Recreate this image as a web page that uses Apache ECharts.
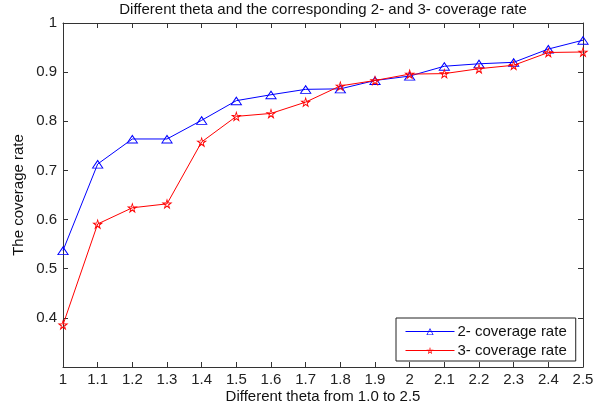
<!DOCTYPE html>
<html>
<head>
<meta charset="utf-8">
<script src="https://cdn.jsdelivr.net/npm/echarts@6/dist/echarts.min.js"></script>
<style>
html,body{margin:0;padding:0;background:#fff;}
#c{width:600px;height:407px;}
</style>
</head>
<body>
<div id="c"></div>
<script>
const theta = [1.0, 1.1, 1.2, 1.3, 1.4, 1.5, 1.6, 1.7, 1.8, 1.9, 2.0, 2.1, 2.2, 2.3, 2.4, 2.5];
const rate2 = [0.537, 0.713, 0.764, 0.764, 0.802, 0.842, 0.854, 0.865, 0.866, 0.883, 0.892, 0.912, 0.917, 0.920, 0.947, 0.965];
const rate3 = [0.386, 0.591, 0.624, 0.632, 0.758, 0.810, 0.816, 0.839, 0.872, 0.883, 0.896, 0.897, 0.907, 0.914, 0.940, 0.941];
const xTickLabels = ['1', '1.1', '1.2', '1.3', '1.4', '1.5', '1.6', '1.7', '1.8', '1.9', '2', '2.1', '2.2', '2.3', '2.4', '2.5'];
const yTickLabels = ['0.3', '0.4', '0.5', '0.6', '0.7', '0.8', '0.9', '1'];
const seriesNames = ['2- coverage rate', '3- coverage rate'];
const titleText = 'Different theta and the corresponding 2- and 3- coverage rate';
const xName = 'Different theta from 1.0 to 2.5';
const yName = 'The coverage rate';

const FONT = 'Liberation Sans, Arial, sans-serif';
// outline (ring) marker shapes: outer contour plus reversed inner contour -> hollow when filled
const triPath = 'path://M50,0 L100,100 L0,100 Z M50,22 L14,90 L86,90 Z';
const starPath = 'path://M50,0 L61,35 L98,35 L68,57 L79,91 L50,70 L21,91 L32,57 L2,35 L39,35 Z ' +
  'M50,23 L44.5,40.5 L26,40.5 L41,51.5 L35.5,68.5 L50,58 L64.5,68.5 L59,51.5 L74,40.5 L55.5,40.5 Z';
const BLUE = '#0000ff', RED = '#ff0000';

const chart = echarts.init(document.getElementById('c'), null, {renderer: 'canvas'});
const axisLineStyle = {color: '#333', width: 1};
const tickCommon = {show: true, inside: true, length: 5, lineStyle: {color: '#333', width: 1}};

const option = {
  backgroundColor: '#fff',
  animation: false,
  grid: {left: 63, right: 17, top: 23, bottom: 40, containLabel: false},
  legend: {
    left: 396, top: 318,
    orient: 'vertical',
    backgroundColor: '#fff',
    borderColor: '#222', borderWidth: 1, borderRadius: 0,
    padding: [6, 9, 3, 9],
    itemWidth: 49, itemHeight: 9, itemGap: 4,
    lineStyle: {width: 1},
    textStyle: {fontFamily: FONT, fontSize: 15, color: '#111', lineHeight: 15, padding: [0, 0, 0, -2]},
    data: seriesNames
  },
  xAxis: [{
    type: 'value', min: 1, max: 2.5, interval: 0.1, position: 'bottom',
    axisLine: {show: true, onZero: false, lineStyle: axisLineStyle},
    axisTick: tickCommon,
    splitLine: {show: false},
    axisLabel: {
      fontFamily: FONT, fontSize: 15, color: '#222', margin: 5,
      formatter: v => xTickLabels[Math.round((v - 1) / 0.1)]
    }
  }, {
    type: 'value', min: 1, max: 2.5, interval: 0.1, position: 'top',
    axisLine: {show: true, onZero: false, lineStyle: axisLineStyle},
    axisTick: tickCommon, axisLabel: {show: false}, splitLine: {show: false}
  }],
  yAxis: [{
    type: 'value', min: 0.3, max: 1, interval: 0.1, position: 'left',
    axisLine: {show: true, onZero: false, lineStyle: axisLineStyle},
    axisTick: tickCommon,
    splitLine: {show: false},
    axisLabel: {
      fontFamily: FONT, fontSize: 15, color: '#222', margin: 6, showMinLabel: false,
      formatter: v => yTickLabels[Math.round((v - 0.3) / 0.1)]
    }
  }, {
    type: 'value', min: 0.3, max: 1, interval: 0.1, position: 'right',
    axisLine: {show: true, onZero: false, lineStyle: axisLineStyle},
    axisTick: tickCommon, axisLabel: {show: false}, splitLine: {show: false}
  }],
  graphic: [
    {type: 'text', x: 323, y: 10, style: {text: titleText, font: '15px ' + FONT, fill: '#111', textAlign: 'center', textVerticalAlign: 'middle', align: 'center', verticalAlign: 'middle'}},
    {type: 'text', x: 323, y: 397, style: {text: xName, font: '15px ' + FONT, fill: '#111', textAlign: 'center', textVerticalAlign: 'middle', align: 'center', verticalAlign: 'middle'}},
    {type: 'text', x: 19, y: 195, rotation: Math.PI / 2, style: {text: yName, font: '15px ' + FONT, fill: '#111', textAlign: 'center', textVerticalAlign: 'middle', align: 'center', verticalAlign: 'middle'}}
  ],
  series: [{
    name: seriesNames[0], type: 'line',
    data: theta.map((t, i) => [t, rate2[i]]),
    symbol: triPath, symbolSize: [12, 9],
    lineStyle: {color: BLUE, width: 1},
    itemStyle: {color: BLUE, borderWidth: 0},
    emphasis: {disabled: true},
    z: 3
  }, {
    name: seriesNames[1], type: 'line',
    data: theta.map((t, i) => [t, rate3[i]]),
    symbol: starPath, symbolSize: 11,
    lineStyle: {color: RED, width: 1},
    itemStyle: {color: RED, borderWidth: 0},
    emphasis: {disabled: true},
    z: 4
  }]
};
chart.setOption(option);
</script>
</body>
</html>
